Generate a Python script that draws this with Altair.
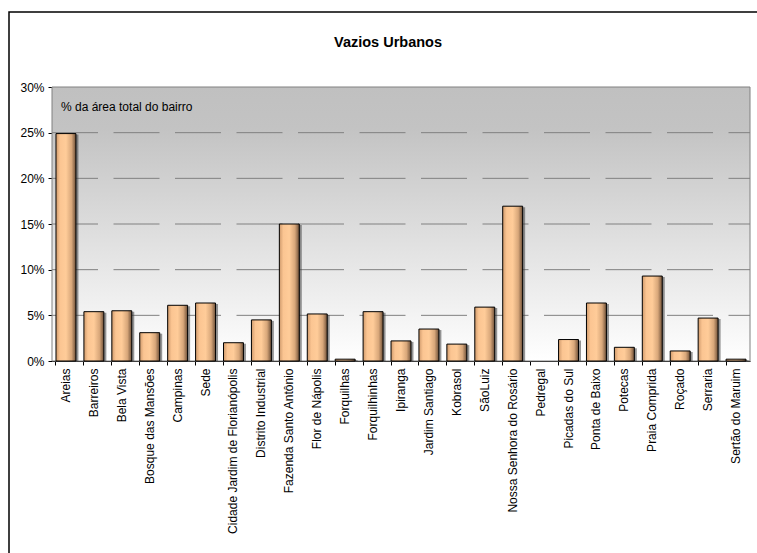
import altair as alt
import pandas as pd

categories = ["Areias", "Barreiros", "Bela Vista", "Bosque das Mansões", "Campinas", "Sede",
              "Cidade Jardim de Florianópolis", "Distrito Industrial", "Fazenda Santo Antônio",
              "Flor de Nápolis", "Forquilhas", "Forquilhinhas", "Ipiranga", "Jardim Santiago",
              "Kobrasol", "SãoLuiz", "Nossa Senhora do Rosário", "Pedregal", "Picadas do Sul",
              "Ponta de Baixo", "Potecas", "Praia Comprida", "Roçado", "Serraria", "Sertão do Maruim"]
values = [0.249, 0.054, 0.055, 0.031, 0.061, 0.0635, 0.020, 0.045, 0.150, 0.0515, 0.002, 0.054,
          0.022, 0.035, 0.0185, 0.059, 0.1695, 0.0, 0.0235, 0.0635, 0.015, 0.093, 0.011, 0.047, 0.002]
grid_values = [0.05, 0.10, 0.15, 0.20, 0.25]
y_ticks = [0, 0.05, 0.10, 0.15, 0.20, 0.25, 0.30]
title_text = "Vazios Urbanos"
note_text = "% da área total do bairro"

W, H = 698, 274
FONT = "Liberation Sans"

df = pd.DataFrame({"bairro": categories, "valor": values})
one = pd.DataFrame({"a": [0]})
gdf = pd.DataFrame({"g": grid_values})

xscale = alt.Scale(domain=categories, paddingInner=0.2857, paddingOuter=0.1429)
yscale = alt.Scale(domain=[0, 0.3], nice=False)
yaxis = alt.Axis(values=y_ticks, format=".0%", title=None, grid=False, tickSize=4,
                 labelPadding=4, labelFontSize=12, labelFont=FONT, labelColor="black",
                 domainColor="black", tickColor="black")

frame = alt.Chart(one).mark_rect(filled=False, stroke="black", strokeWidth=1.5).encode(
    x=alt.value(-43), x2=alt.value(W + 60), y=alt.value(-75), y2=alt.value(H + 250))

bg = alt.Chart(one).mark_rect(
    fill=alt.LinearGradient(gradient="linear", x1=0, x2=0, y1=0, y2=1,
                            stops=[alt.GradientStop(offset=0, color="#c0c0c0"),
                                   alt.GradientStop(offset=0.15, color="#c3c3c3"),
                                   alt.GradientStop(offset=1, color="#ffffff")]),
    stroke="#808080", strokeWidth=1).encode(
    x=alt.value(0), x2=alt.value(W), y=alt.value(0), y2=alt.value(H))

grid = alt.Chart(gdf).mark_rule(color="#808080", strokeWidth=1, strokeDash=[46, 15.5]).encode(
    y=alt.Y("g:Q", scale=yscale, axis=yaxis),
    x=alt.value(0), x2=alt.value(W))

shadow = alt.Chart(df).mark_bar(color="#404040", opacity=0.55, xOffset=2.5, yOffset=1).encode(
    x=alt.X("bairro:N", sort=categories, scale=xscale,
            axis=alt.Axis(orient="bottom", title=None, labels=False, ticks=True, tickSize=4,
                          bandPosition=0, domain=True, domainColor="black", tickColor="black")),
    y=alt.Y("valor:Q", scale=yscale, axis=yaxis)).transform_filter("datum.valor > 0")

bars = alt.Chart(df).mark_bar(
    fill=alt.LinearGradient(gradient="linear", x1=0, x2=1, y1=0, y2=0,
                            stops=[alt.GradientStop(offset=0, color="#cf9a6c"),
                                   alt.GradientStop(offset=0.2, color="#fbc592"),
                                   alt.GradientStop(offset=0.5, color="#ffcc99"),
                                   alt.GradientStop(offset=0.78, color="#d8a77a"),
                                   alt.GradientStop(offset=1, color="#6e5038")]),
    stroke="black", strokeWidth=1).encode(
    x=alt.X("bairro:N", sort=categories, scale=xscale,
            axis=alt.Axis(orient="bottom", title=None, labels=True, ticks=False, tickSize=0,
                          domain=False, labelAngle=-90, labelPadding=7, labelFontSize=12,
                          labelFont=FONT, labelColor="black", labelOverlap=False)),
    y=alt.Y("valor:Q", scale=yscale, axis=yaxis)).transform_filter("datum.valor > 0")

title = alt.Chart(one).mark_text(text=title_text, font=FONT, fontSize=14.5, fontWeight="bold",
                                 align="center", baseline="alphabetic", color="black").encode(
    x=alt.value(336), y=alt.value(-39.7))

note = alt.Chart(one).mark_text(text=note_text, font=FONT, fontSize=12, align="left",
                                baseline="alphabetic", color="black").encode(
    x=alt.value(9), y=alt.value(24))

chart = alt.layer(frame, bg, grid, shadow, bars, title, note).resolve_axis(
    x="independent").properties(
    width=W, height=H,
    autosize=alt.AutoSizeParams(type="none"),
    padding={"left": 52, "top": 87, "right": 7, "bottom": 192},
    background="white"
).configure_view(stroke="transparent")

chart.save("out.html", embed_options={"renderer": "svg", "actions": False})
